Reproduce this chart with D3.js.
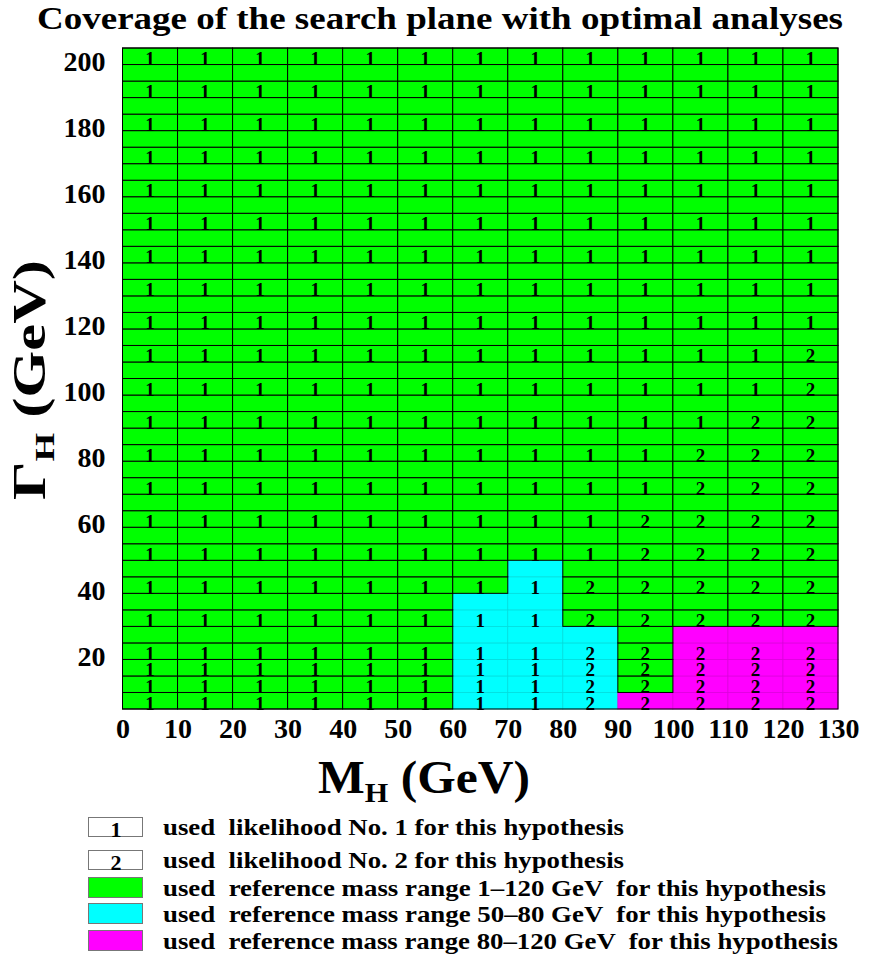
<!DOCTYPE html>
<html>
<head>
<meta charset="utf-8">
<script src="https://cdn.jsdelivr.net/npm/d3@7"></script>
<style>
  body { margin: 0; background: #fff; }
</style>
</head>
<body>
<svg id="coverage" width="872" height="958" font-family="'Liberation Serif', 'DejaVu Serif', 'DejaVu Sans', serif" font-weight="bold"></svg>
<script>
// mass columns (centre of each 10 GeV bin)
const massCentres = [5, 15, 25, 35, 45, 55, 65, 75, 85, 95, 105, 115, 125];
// width rows (centre of each 5 GeV row)
const widthRows = [5, 10, 15, 20, 25, 30, 35, 40, 45, 50, 55, 60, 65, 70, 75, 80, 85, 90, 95, 100,
                   105, 110, 115, 120, 125, 130, 135, 140, 145, 150, 155, 160, 165, 170, 175, 180, 185, 190, 195, 200];
// hypotheses that carry a likelihood number
const hypothesisWidths = [5, 10, 15, 20, 30, 40, 50, 60, 70, 80, 90, 100, 110, 120, 130, 140, 150, 160, 170, 180, 190, 200];
// per mass column: largest width that used likelihood No. 2 (0 = none)
const lik2MaxWidth = [0, 0, 0, 0, 0, 0, 0, 0, 40, 60, 80, 90, 110];
// per mass column: largest width that used reference range 50-80 GeV
const ref5080MaxWidth = [0, 0, 0, 0, 0, 0, 35, 45, 25, 0, 0, 0, 0];
// per mass column: largest width that used reference range 80-120 GeV
const ref80120MaxWidth = [0, 0, 0, 0, 0, 0, 0, 0, 0, 5, 25, 25, 25];

const xTicks = [0, 10, 20, 30, 40, 50, 60, 70, 80, 90, 100, 110, 120, 130];
const yTicks = [20, 40, 60, 80, 100, 120, 140, 160, 180, 200];

const legendItems = [
  { kind: "1", text: "used  likelihood No. 1 for this hypothesis" },
  { kind: "2", text: "used  likelihood No. 2 for this hypothesis" },
  { kind: "green", text: "used  reference mass range 1\u2013120 GeV  for this hypothesis" },
  { kind: "cyan", text: "used  reference mass range 50\u201380 GeV  for this hypothesis" },
  { kind: "magenta", text: "used  reference mass range 80\u2013120 GeV  for this hypothesis" }
];

const serif = "'Liberation Serif', 'DejaVu Serif', 'DejaVu Sans', serif";
const colours = { green: "#00ff00", cyan: "#00ffff", magenta: "#ff00ff" };
const edges = { green: "#000", cyan: "#00dede", magenta: "#de00de" };

const svg = d3.select("#coverage");

const x = d3.scaleLinear().domain([0, 130]).range([122.5, 838]);
const y = d3.scaleLinear().domain([2.5, 202.5]).range([709, 48]);

// build cells
const cells = [];
massCentres.forEach((m, i) => {
  widthRows.forEach(g => {
    let region = "green";
    if (g <= ref5080MaxWidth[i]) region = "cyan";
    if (g <= ref80120MaxWidth[i]) region = "magenta";
    cells.push({ m, g, region, lik: g <= lik2MaxWidth[i] ? 2 : 1 });
  });
});

// title
svg.append("text")
  .attr("x", 440).attr("y", 29)
  .attr("text-anchor", "middle")
  .attr("font-size", 31)
  .attr("textLength", 806)
  .attr("lengthAdjust", "spacingAndGlyphs")
  .text("Coverage of the search plane with optimal analyses");

// non-green cells first, green on top so their black borders show
const order = { cyan: 0, magenta: 0, green: 1 };
svg.append("g")
  .selectAll("rect")
  .data(cells.slice().sort((a, b) => order[a.region] - order[b.region]))
  .join("rect")
  .attr("x", d => x(d.m - 5))
  .attr("y", d => y(d.g + 2.5))
  .attr("width", d => x(d.m + 5) - x(d.m - 5))
  .attr("height", d => y(d.g - 2.5) - y(d.g + 2.5))
  .attr("fill", d => colours[d.region])
  .attr("stroke", d => edges[d.region])
  .attr("stroke-width", d => d.region === "green" ? 1 : 0.8);

// outer frame
svg.append("rect")
  .attr("x", x(0)).attr("y", y(202.5))
  .attr("width", x(130) - x(0)).attr("height", y(2.5) - y(202.5))
  .attr("fill", "none").attr("stroke", "#000").attr("stroke-width", 1);

// likelihood numbers
svg.append("g")
  .selectAll("text")
  .data(cells.filter(d => hypothesisWidths.includes(d.g)))
  .join("text")
  .attr("x", d => x(d.m))
  .attr("y", d => y(d.g - 2.5) + 0.5)
  .attr("text-anchor", "middle")
  .attr("font-size", 19)
  .text(d => d.lik);

// x axis
const xAxis = svg.append("g")
  .attr("transform", `translate(0,${y(2.5)})`)
  .call(d3.axisBottom(x).tickValues(xTicks).tickSize(0).tickPadding(9));
xAxis.attr("font-family", serif).attr("font-size", null);
xAxis.select(".domain").remove();
xAxis.selectAll("text")
  .attr("font-size", 28).attr("fill", "#000");

// y axis
const yAxis = svg.append("g")
  .attr("transform", `translate(${x(0)},5)`)
  .call(d3.axisLeft(y).tickValues(yTicks).tickSize(0).tickPadding(17));
yAxis.attr("font-family", serif).attr("font-size", null);
yAxis.select(".domain").remove();
yAxis.selectAll("text")
  .attr("font-size", 28).attr("fill", "#000");

// axis titles
const xTitle = svg.append("text")
  .attr("x", 318).attr("y", 793)
  .attr("font-size", 46)
  .attr("textLength", 212)
  .attr("lengthAdjust", "spacingAndGlyphs");
xTitle.append("tspan").text("M");
xTitle.append("tspan").attr("font-size", 28).attr("dy", 9).text("H");
xTitle.append("tspan").attr("dy", -9).text(" (GeV)");

const yTitle = svg.append("text")
  .attr("transform", "translate(45,500) rotate(-90)")
  .attr("font-size", 46)
  .attr("textLength", 240)
  .attr("lengthAdjust", "spacingAndGlyphs");
yTitle.append("tspan").text("\u0393");
yTitle.append("tspan").attr("font-size", 28).attr("dy", 9).text("H");
yTitle.append("tspan").attr("dy", -9).text(" (GeV)");

// legend
const legendTop = [817, 850, 877, 903, 930];
const legendLen = [461, 461, 663, 663, 675];
const legend = svg.append("g");
legendItems.forEach((item, i) => {
  const top = legendTop[i];
  const isNum = item.kind === "1" || item.kind === "2";
  const h = i < 2 ? 19 : 20;
  legend.append("rect")
    .attr("x", 88.5).attr("y", top + 0.5)
    .attr("width", 54).attr("height", h)
    .attr("fill", isNum ? "#fff" : colours[item.kind])
    .attr("stroke", "#777").attr("stroke-width", 1);
  if (isNum) {
    legend.append("text")
      .attr("x", 116).attr("y", top + h + 1)
      .attr("text-anchor", "middle")
      .attr("font-size", 22)
      .text(item.kind);
  }
  legend.append("text")
    .attr("x", 163).attr("y", top + h - 1)
    .attr("font-size", 24)
    .attr("textLength", legendLen[i])
    .attr("lengthAdjust", "spacingAndGlyphs")
    .style("white-space", "pre")
    .text(item.text);
});
</script>
</body>
</html>
